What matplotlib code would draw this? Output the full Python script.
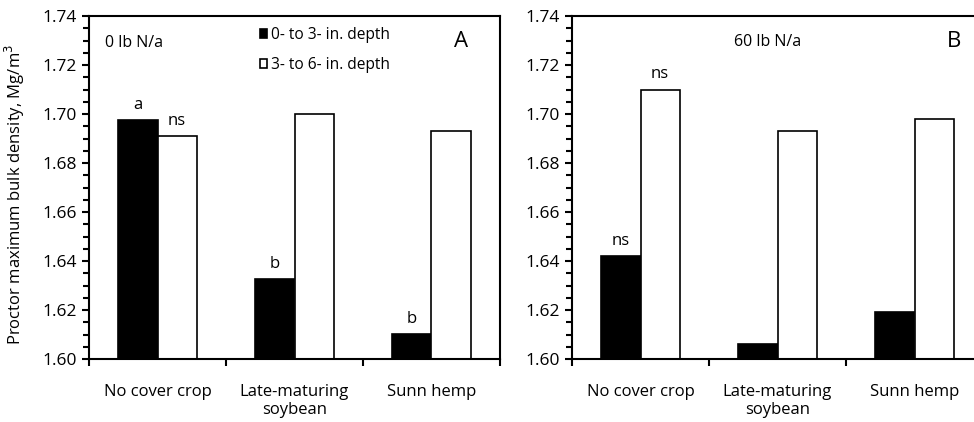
import numpy as np
import matplotlib
matplotlib.use('Agg')
import matplotlib.pyplot as plt
from matplotlib.ticker import MultipleLocator

plt.rcParams['font.family'] = ['Open Sans', 'DejaVu Sans']

# Veriler
categories = ['No cover crop', 'Late-maturing\nsoybean', 'Sunn hemp']
series_names = ['0- to 3- in. depth', '3- to 6- in. depth']
a_shallow = [1.6975, 1.6325, 1.610]
a_deep = [1.691, 1.700, 1.693]
b_shallow = [1.642, 1.606, 1.619]
b_deep = [1.710, 1.693, 1.698]
a_shallow_lbl = ['a', 'b', 'b']
a_deep_lbl = ['ns', '', '']
b_shallow_lbl = ['ns', '', '']
b_deep_lbl = ['ns', '', '']

fig = plt.figure(figsize=(9.74, 4.22), dpi=100)
W, H = 974, 422
ax_a = fig.add_axes([89 / W, 1 - 359 / H, 411 / W, 343 / H])
ax_b = fig.add_axes([572 / W, 1 - 359 / H, 411 / W, 343 / H])

x = np.arange(len(categories))
bw = 0.285


def draw_panel(ax, shallow, deep, lbl_s, lbl_d):
    b1 = ax.bar(x - bw / 2, np.array(shallow) - 1.6, bw, bottom=1.6,
                color='black', edgecolor='black', linewidth=1.2,
                label=series_names[0])
    b2 = ax.bar(x + bw / 2, np.array(deep) - 1.6, bw, bottom=1.6,
                color='white', edgecolor='black', linewidth=1.2,
                label=series_names[1])
    for i in range(len(x)):
        if lbl_s[i]:
            ax.text(x[i] - bw / 2, shallow[i] + 0.003, lbl_s[i],
                    ha='center', va='bottom', fontsize=12)
        if lbl_d[i]:
            ax.text(x[i] + bw / 2, deep[i] + 0.003, lbl_d[i],
                    ha='center', va='bottom', fontsize=12)
    ax.set_xlim(-0.5, 2.5)
    ax.set_ylim(1.60, 1.74)
    ax.yaxis.set_major_locator(MultipleLocator(0.02))
    ax.yaxis.set_minor_locator(MultipleLocator(0.005))
    ax.yaxis.set_major_formatter(plt.FuncFormatter(lambda v, p: f'{v:.2f}'))
    ax.set_xticks([-0.5, 0.5, 1.5, 2.5])
    ax.set_xticklabels([])
    ax.set_xticks(x, minor=True)
    ax.set_xticklabels(categories, minor=True, fontsize=12, linespacing=1.2)
    ax.tick_params(axis='x', which='minor', length=0, pad=18)
    ax.tick_params(axis='x', which='major', length=5, width=1.5, direction='out')
    ax.tick_params(axis='y', which='both', direction='out', width=1.5, labelsize=12.5)
    ax.tick_params(axis='y', which='major', length=5)
    ax.tick_params(axis='y', which='minor', length=4)
    for s in ax.spines.values():
        s.set_linewidth(1.5)
    return b1, b2


h1, h2 = draw_panel(ax_a, a_shallow, a_deep, a_shallow_lbl, a_deep_lbl)
draw_panel(ax_b, b_shallow, b_deep, b_shallow_lbl, b_deep_lbl)

ax_a.set_ylabel('Proctor maximum bulk density, Mg/m$^3$', fontsize=12)
ax_a.yaxis.set_label_coords(-0.152, 0.48)
ax_a.text(0.04, 0.92, '0 lb N/a', transform=ax_a.transAxes, fontsize=11.5, va='center')
ax_a.text(0.905, 0.925, 'A', transform=ax_a.transAxes, fontsize=16, ha='center', va='center')
ax_b.text(0.477, 0.925, '60 lb N/a', transform=ax_b.transAxes, fontsize=11.5, ha='center', va='center')
ax_b.text(0.93, 0.925, 'B', transform=ax_b.transAxes, fontsize=16, ha='center', va='center')

ax_a.legend(handles=[h1, h2], loc='upper left', bbox_to_anchor=(0.4, 0.985),
            frameon=False, fontsize=11.2, handlelength=0.5, handleheight=0.5,
            handletextpad=0.2, labelspacing=0.85, borderaxespad=0)

fig.savefig('out.png', dpi=100)
